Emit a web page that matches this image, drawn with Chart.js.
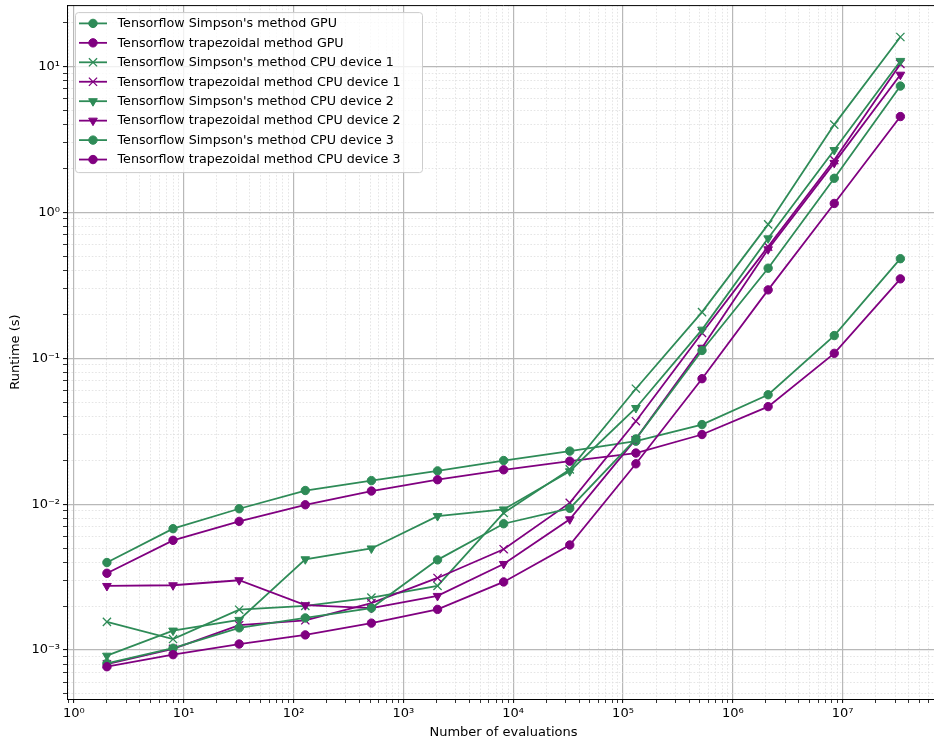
<!DOCTYPE html>
<html>
<head>
<meta charset="utf-8">
<script src="https://cdn.jsdelivr.net/npm/chart.js@4/dist/chart.umd.min.js"></script>
<style>
html, body { margin: 0; padding: 0; background: #fff; overflow: hidden; }
#wrap { width: 950px; height: 744px; overflow: hidden; }
#runtime-chart { display: block; margin-top: -2px; }
</style>
</head>
<body>
<div id="wrap"><canvas id="runtime-chart" width="950" height="746"></canvas></div>
<script>
// number of evaluations (x) and runtimes in seconds (y)
const evaluations = [2, 8, 32, 128, 512, 2048, 8192, 32768, 131072, 524288, 2097152, 8388608, 33554432];

const simpsonGpu  = [3.98e-3, 6.79e-3, 9.3e-3, 1.24e-2, 1.45e-2, 1.69e-2, 1.99e-2, 2.31e-2, 2.7e-2, 3.51e-2, 5.62e-2, 0.143, 0.481];
const trapezGpu   = [3.36e-3, 5.65e-3, 7.62e-3, 9.9e-3, 1.23e-2, 1.47e-2, 1.72e-2, 1.97e-2, 2.24e-2, 3.0e-2, 4.66e-2, 0.108, 0.350];
const simpsonCpu1 = [1.56e-3, 1.19e-3, 1.89e-3, 2.01e-3, 2.29e-3, 2.75e-3, 8.7e-3, 1.73e-2, 6.18e-2, 0.207, 0.826, 3.99, 15.9];
const trapezCpu1  = [8.0e-4, 1.02e-3, 1.48e-3, 1.60e-3, 2.10e-3, 3.12e-3, 4.91e-3, 1.02e-2, 3.70e-2, 0.149, 0.582, 2.28, 10.4];
const simpsonCpu2 = [9.15e-4, 1.36e-3, 1.61e-3, 4.19e-3, 4.97e-3, 8.28e-3, 9.2e-3, 1.68e-2, 4.56e-2, 0.157, 0.663, 2.67, 10.9];
const trapezCpu2  = [2.75e-3, 2.78e-3, 3.01e-3, 2.03e-3, 1.94e-3, 2.35e-3, 3.89e-3, 7.87e-3, 2.8e-2, 0.118, 0.558, 2.18, 8.77];
const simpsonCpu3 = [8.1e-4, 1.03e-3, 1.42e-3, 1.66e-3, 1.94e-3, 4.15e-3, 7.34e-3, 9.36e-3, 2.8e-2, 0.113, 0.414, 1.71, 7.33];
const trapezCpu3  = [7.69e-4, 9.3e-4, 1.10e-3, 1.27e-3, 1.53e-3, 1.90e-3, 2.93e-3, 5.25e-3, 1.89e-2, 0.0724, 0.294, 1.15, 4.53];

const seriesLabels = [
    "Tensorflow Simpson's method GPU",
    "Tensorflow trapezoidal method GPU",
    "Tensorflow Simpson's method CPU device 1",
    "Tensorflow trapezoidal method CPU device 1",
    "Tensorflow Simpson's method CPU device 2",
    "Tensorflow trapezoidal method CPU device 2",
    "Tensorflow Simpson's method CPU device 3",
    "Tensorflow trapezoidal method CPU device 3",
];
const seriesValues = [simpsonGpu, trapezGpu, simpsonCpu1, trapezCpu1, simpsonCpu2, trapezCpu2, simpsonCpu3, trapezCpu3];

const GREEN = '#2e8b57';
const PURPLE = '#800080';
const FONT = '"DejaVu Sans", sans-serif';

// marker per device: circle for GPU, x for CPU 1, down triangle for CPU 2, circle for CPU 3
const markers = [
    { pointStyle: 'circle', radius: 4.2, rotation: 0 },
    { pointStyle: 'crossRot', radius: 5.8, rotation: 0 },
    { pointStyle: 'triangle', radius: 5, rotation: 180 },
    { pointStyle: 'circle', radius: 4.2, rotation: 0 },
];

const datasets = seriesLabels.map((label, i) => {
    const color = i % 2 === 0 ? GREEN : PURPLE;
    const m = markers[Math.floor(i / 2)];
    return {
        label: label,
        data: evaluations.map((x, j) => ({ x: x, y: seriesValues[i][j] })),
        borderColor: color,
        backgroundColor: color,
        borderWidth: 1.8,
        pointStyle: m.pointStyle,
        pointRotation: m.rotation,
        pointRadius: m.radius,
        pointHoverRadius: m.radius,
        pointBorderWidth: m.pointStyle === 'crossRot' ? 1.3 : 1,
        pointBackgroundColor: color,
        pointBorderColor: color,
        tension: 0,
        order: seriesLabels.length - i,
    };
});

const SUP = { '-': '\u207b', '0': '\u2070', '1': '\u00b9', '2': '\u00b2', '3': '\u00b3',
    '4': '\u2074', '5': '\u2075', '6': '\u2076', '7': '\u2077', '8': '\u2078', '9': '\u2079' };

function isPow10(v) {
    const l = Math.log10(v);
    return Math.abs(l - Math.round(l)) < 1e-9;
}

function powLabel(v) {
    if (!isPow10(v)) return '';
    const e = String(Math.round(Math.log10(v)));
    return '10' + e.split('').map(c => SUP[c]).join('');
}

// 1..9 x 10^n ticks, like matplotlib's major + minor log locator
function logTicks(scale) {
    const ticks = [];
    const lo = Math.floor(Math.log10(scale.min));
    const hi = Math.ceil(Math.log10(scale.max));
    for (let e = lo; e <= hi; e++) {
        for (let m = 1; m <= 9; m++) {
            const v = parseFloat((m * Math.pow(10, e)).toPrecision(12));
            if (v >= scale.min && v <= scale.max) ticks.push({ value: v, major: m === 1 });
        }
    }
    scale.ticks = ticks;
}

const isMajor = ctx => !!(ctx.tick && ctx.tick.major);

function logAxis(min, max, title, size) {
    return {
        type: 'logarithmic',
        min: min,
        max: max,
        afterBuildTicks: logTicks,
        afterFit: s => {
            if (s.isHorizontal()) s.height = size; else s.width = size;
            s.paddingTop = 0; s.paddingBottom = 0; s.paddingLeft = 0; s.paddingRight = 0;
        },
        title: title,
        border: {
            display: true, color: '#000', width: 1,
            dash: ctx => (ctx.tick && !ctx.tick.major) ? [1.6, 1.8] : [],
        },
        grid: {
            color: ctx => isMajor(ctx) ? '#b8b8b8' : '#dedede',
            lineWidth: ctx => isMajor(ctx) ? 1.2 : 0.8,
            tickColor: '#000',
            tickLength: 4,
            tickWidth: ctx => isMajor(ctx) ? 1 : 0.8,
        },
        ticks: {
            autoSkip: false,
            maxRotation: 0,
            minRotation: 0,
            padding: 3,
            color: '#000',
            font: { family: FONT, size: 13 },
            callback: v => powLabel(v),
        },
    };
}

// top/right spines and a matplotlib style legend inside the axes
const axesFrame = {
    id: 'axesFrame',
    afterDatasetsDraw(chart) {
        const { ctx, chartArea: a } = chart;
        ctx.save();
        ctx.strokeStyle = '#000';
        ctx.lineWidth = 1;
        ctx.beginPath();
        ctx.moveTo(a.left, a.top + 0.5);
        ctx.lineTo(a.right, a.top + 0.5);
        ctx.moveTo(a.right - 0.5, a.top);
        ctx.lineTo(a.right - 0.5, a.bottom);
        ctx.stroke();

        const x0 = a.left + 8, y0 = a.top + 7, w = 347, h = 160, rowH = 19.45;
        ctx.beginPath();
        ctx.roundRect(x0 + 0.5, y0 + 0.5, w, h, 3);
        ctx.fillStyle = 'rgba(255,255,255,0.8)';
        ctx.fill();
        ctx.strokeStyle = '#cccccc';
        ctx.stroke();

        chart.data.datasets.forEach((ds, i) => {
            const cy = y0 + 11.3 + i * rowH;
            ctx.strokeStyle = ds.borderColor;
            ctx.fillStyle = ds.borderColor;
            ctx.lineWidth = ds.borderWidth;
            ctx.beginPath();
            ctx.moveTo(x0 + 4, cy);
            ctx.lineTo(x0 + 32, cy);
            ctx.stroke();
            ctx.lineWidth = ds.pointBorderWidth;
            Chart.helpers.drawPoint(ctx, {
                pointStyle: ds.pointStyle,
                rotation: ds.pointRotation,
                radius: ds.pointRadius,
                borderWidth: ds.pointBorderWidth,
            }, x0 + 18, cy);
            ctx.fillStyle = '#000';
            ctx.font = '12.7px ' + FONT;
            ctx.textBaseline = 'middle';
            ctx.textAlign = 'left';
            ctx.fillText(ds.label, x0 + 42.5, cy + 0.5);
        });
        ctx.restore();
    },
};

new Chart(document.getElementById('runtime-chart').getContext('2d'), {
    type: 'line',
    data: { datasets: datasets },
    options: {
        responsive: false,
        animation: false,
        events: [],
        layout: { padding: { left: 0, top: 3, right: 10, bottom: 0 } },
        plugins: { legend: { display: false }, tooltip: { enabled: false } },
        scales: {
            x: logAxis(0.866, 7.7e7,
                { display: true, text: 'Number of evaluations', color: '#000',
                  font: { family: FONT, size: 13 }, padding: { top: 0, bottom: 4 } },
                45),
            y: logAxis(4.62e-4, 26.3,
                { display: true, text: 'Runtime (s)', color: '#000',
                  font: { family: FONT, size: 13 }, padding: { top: 8, bottom: 0 } },
                67),
        },
    },
    plugins: [axesFrame],
});
</script>
</body>
</html>
